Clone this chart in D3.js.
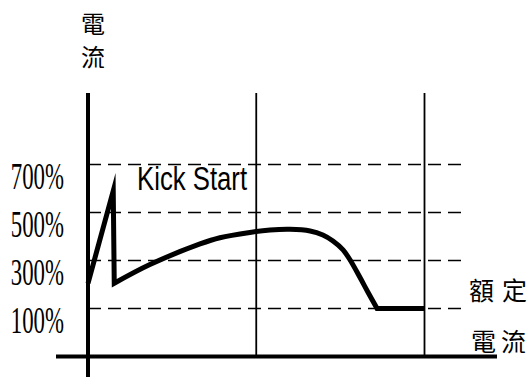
<!DOCTYPE html>
<html>
<head>
<meta charset="utf-8">
<script src="https://cdn.jsdelivr.net/npm/d3@7"></script>
<style>
  body { margin: 0; background: #fff; }
  svg { display: block; }
</style>
</head>
<body>
<div id="chart"></div>
<script>
// current levels (percent of rated) and their tick labels
var levels = [100, 300, 500, 700];
var levelLabels = ["100%", "300%", "500%", "700%"];

// time markers (vertical lines), time in arbitrary units 0..100
var markers = [50, 100];

// kick start spike
var spikeTime = [0, 7.5, 7.8];
var spikeCurrent = [205, 590, 205];

// acceleration curve after the kick (smooth part)
var rampTime = [7.8, 18.4, 33.3, 39.2, 48.1, 54.1, 60, 66, 69.8, 72.8, 75.8, 77.9, 80.8, 83.2, 85.9];
var rampCurrent = [205, 283, 369, 395, 417, 427, 430, 423, 406, 381, 344, 302, 230, 168, 100];

// rated current after run-up
var runTime = [85.9, 100];
var runCurrent = [100, 100];

function draw() {
  var width = 532, height = 377;

  var svg = d3.select("#chart").append("svg")
    .attr("width", width)
    .attr("height", height);

  var x = d3.scaleLinear().domain([0, 100]).range([88, 424.5]);
  var y = d3.scaleLinear().domain([0, 700]).range([332.5, 164.5]);

  // dashed level lines
  svg.append("g").selectAll("line")
    .data(levels)
    .enter().append("line")
    .attr("x1", x(0))
    .attr("x2", 467)
    .attr("y1", d => y(d))
    .attr("y2", d => y(d))
    .attr("stroke", "#000")
    .attr("stroke-width", 1.7)
    .attr("stroke-dasharray", "13,7");

  // vertical marker lines
  svg.append("g").selectAll("line")
    .data(markers)
    .enter().append("line")
    .attr("x1", d => x(d))
    .attr("x2", d => x(d))
    .attr("y1", 93)
    .attr("y2", 357)
    .attr("stroke", "#000")
    .attr("stroke-width", 1.8);

  // axes
  svg.append("line")
    .attr("x1", x(0)).attr("x2", x(0))
    .attr("y1", 93).attr("y2", 377)
    .attr("stroke", "#000").attr("stroke-width", 4);
  svg.append("line")
    .attr("x1", 56).attr("x2", 497)
    .attr("y1", 356.5).attr("y2", 356.5)
    .attr("stroke", "#000").attr("stroke-width", 4);

  // tick labels (narrow serif)
  svg.append("g").selectAll("text")
    .data(levels)
    .enter().append("text")
    .attr("transform", d => "translate(64," + (y(d) + 24) + ") scale(0.6,1)")
    .attr("text-anchor", "end")
    .style("font-family", "'Liberation Serif', serif")
    .style("font-size", "38px")
    .text((d, i) => levelLabels[i]);

  // current curve: sharp spike + smooth ramp + flat run
  var straight = d3.line()
    .x(d => x(d[0])).y(d => y(d[1]));
  var smooth = d3.line()
    .x(d => x(d[0])).y(d => y(d[1]))
    .curve(d3.curveCatmullRom.alpha(0.5));
  var spikePts = spikeTime.map((t, i) => [t, spikeCurrent[i]]);
  var rampPts = rampTime.map((t, i) => [t, rampCurrent[i]]);
  var runPts = runTime.map((t, i) => [t, runCurrent[i]]);
  var pathD = straight(spikePts)
    + smooth(rampPts).replace(/^M/, "L")
    + straight(runPts).replace(/^M/, "L");

  svg.append("path")
    .attr("d", pathD)
    .attr("fill", "none")
    .attr("stroke", "#000")
    .attr("stroke-width", 5)
    .attr("stroke-linejoin", "miter")
    .attr("stroke-miterlimit", 10);

  // Kick Start label
  svg.append("text")
    .attr("transform", "translate(137,190) scale(0.78,1)")
    .style("font-family", "'Liberation Sans', Arial, sans-serif")
    .style("font-size", "33px")
    .text("Kick Start");

  // axis titles
  var cjk = "'Noto Sans CJK TC', 'Noto Sans CJK JP', sans-serif";
  var titleTop = [["電", 33], ["流", 66]];
  svg.append("g").selectAll("text")
    .data(titleTop)
    .enter().append("text")
    .attr("x", 93).attr("y", d => d[1])
    .attr("text-anchor", "middle")
    .style("font-family", cjk).style("font-size", "24px")
    .text(d => d[0]);

  var titleRight = [["額", 469, 300], ["定", 502, 300], ["電", 471, 351], ["流", 501, 351]];
  svg.append("g").selectAll("text")
    .data(titleRight)
    .enter().append("text")
    .attr("x", d => d[1]).attr("y", d => d[2])
    .style("font-family", cjk).style("font-size", "25px")
    .text(d => d[0]);
}

window.onload = draw;
</script>
</body>
</html>
